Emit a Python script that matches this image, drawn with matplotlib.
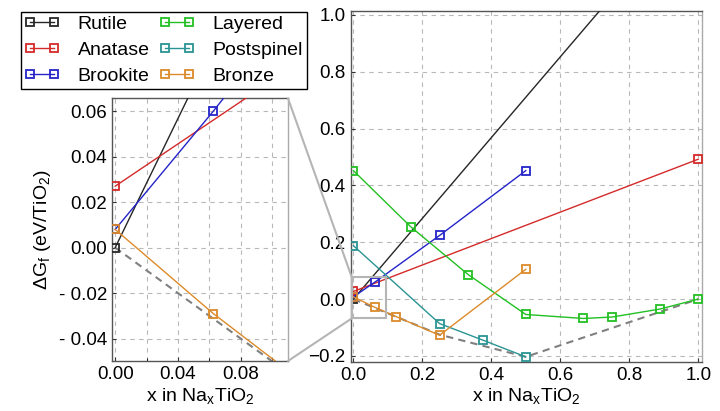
import matplotlib
matplotlib.use("Agg")
import matplotlib.pyplot as plt
from matplotlib.patches import Rectangle, ConnectionPatch
from matplotlib.ticker import MultipleLocator, FuncFormatter

plt.rcParams['font.family'] = ['Liberation Sans', 'DejaVu Sans']
plt.rcParams['mathtext.fontset'] = 'custom'
plt.rcParams['mathtext.rm'] = 'Liberation Sans'
plt.rcParams['mathtext.it'] = 'Liberation Sans:italic'

# ---- data ----
rutile_x = [0.0, 1.0]
rutile_y = [0.0, 1.42]
anatase_x = [0.0, 1.0]
anatase_y = [0.027, 0.492]
brookite_x = [0.0, 0.0625, 0.25, 0.5]
brookite_y = [0.008, 0.060, 0.224, 0.452]
layered_x = [0.0, 0.1667, 0.3333, 0.5, 0.6667, 0.75, 0.8889, 1.0]
layered_y = [0.452, 0.254, 0.086, -0.054, -0.068, -0.063, -0.035, 0.0]
postspinel_x = [0.0, 0.25, 0.375, 0.5]
postspinel_y = [0.188, -0.086, -0.144, -0.203]
bronze_x = [0.0, 0.0625, 0.125, 0.25, 0.5]
bronze_y = [0.008, -0.029, -0.062, -0.127, 0.105]
hull_x = [0.0, 0.25, 0.5, 1.0]
hull_y = [0.0, -0.125, -0.203, 0.0]

series = [
    ("Rutile", rutile_x, rutile_y, "#262626"),
    ("Anatase", anatase_x, anatase_y, "#d42a2a"),
    ("Brookite", brookite_x, brookite_y, "#2424c8"),
    ("Layered", layered_x, layered_y, "#22c022"),
    ("Postspinel", postspinel_x, postspinel_y, "#2a9494"),
    ("Bronze", bronze_x, bronze_y, "#dc8a2a"),
]

fig = plt.figure(figsize=(7.2, 4.11), dpi=100)
ax = fig.add_axes([0.487, 0.12, 0.4875, 0.853])
axi = fig.add_axes([0.1556, 0.1217, 0.2444, 0.639])

handles = []
for a in (ax, axi):
    for name, xs, ys, c in series:
        h, = a.plot(xs, ys, color=c, lw=1.0, marker='s', ms=5.5, mfc='none',
                    mec=c, mew=1.3, label=name, zorder=3)
        if a is ax:
            handles.append(h)
    a.plot(hull_x, hull_y, color='#808080', lw=1.5, ls=(0, (3.5, 2.5)), zorder=2)
    a.grid(True, which='both', color='#b8b8b8', ls=(0, (4, 4)), lw=0.8)
    a.tick_params(direction='in', labelsize=13.5, length=3, colors='#333333')
    a.tick_params(labelcolor='black')
    for s in a.spines.values():
        s.set_color('#555555')
        s.set_linewidth(1.0)
    a.spines['right'].set_color('#aaaaaa')
    a.set_xlabel(r"x in Na$_\mathregular{x}$TiO$_2$", fontsize=14, labelpad=2)

ax.set_xlim(-0.008, 1.01)
ax.set_ylim(-0.22, 1.013)
ax.xaxis.set_major_locator(MultipleLocator(0.2))
ax.yaxis.set_major_locator(MultipleLocator(0.2))
ax.xaxis.set_major_formatter(FuncFormatter(lambda v, p: f"{v:.1f}".replace('-', '\u2212')))
ax.yaxis.set_major_formatter(FuncFormatter(lambda v, p: f"{v:.1f}".replace('-', '\u2212')))

axi.set_xlim(-0.002, 0.11)
axi.set_ylim(-0.0498, 0.0656)
axi.xaxis.set_major_locator(MultipleLocator(0.04))
axi.xaxis.set_minor_locator(MultipleLocator(0.02))
axi.yaxis.set_major_locator(MultipleLocator(0.02))
axi.xaxis.set_major_formatter(FuncFormatter(lambda v, p: f"{v:.2f}"))
axi.yaxis.set_major_formatter(FuncFormatter(
    lambda v, p: (f"- {abs(v):.2f}" if v < -1e-9 else f"{abs(v):.2f}")))
axi.tick_params(which='minor', direction='in', length=2)
axi.set_ylabel(r"$\Delta$G$_\mathregular{f}$ (eV/TiO$_2$)", fontsize=14, labelpad=4)

# zoom box in main axes
rect = Rectangle((-0.005, -0.068), 0.1, 0.146, fill=False, ec='#b5b5b5', lw=1.5, zorder=4)
ax.add_patch(rect)
for (xa, ya), (xb, yb) in [((1, 1), (-0.005, 0.078)), ((1, 0), (-0.005, -0.068))]:
    con = ConnectionPatch(xyA=(xa, ya), coordsA=axi.transAxes,
                          xyB=(xb, yb), coordsB=ax.transData,
                          color='#b5b5b5', lw=1.5)
    fig.add_artist(con)

leg = fig.legend(handles=handles, ncol=2, loc='upper left',
                 bbox_to_anchor=(0.0288, 0.9715), borderaxespad=0,
                 fontsize=14, numpoints=2,
                 handlelength=1.8, columnspacing=0.5, handletextpad=0.93,
                 labelspacing=0.42, borderpad=0.2, fancybox=False,
                 edgecolor='black', framealpha=1)
leg.get_frame().set_linewidth(1.0)

fig.savefig("out.png", dpi=100)
